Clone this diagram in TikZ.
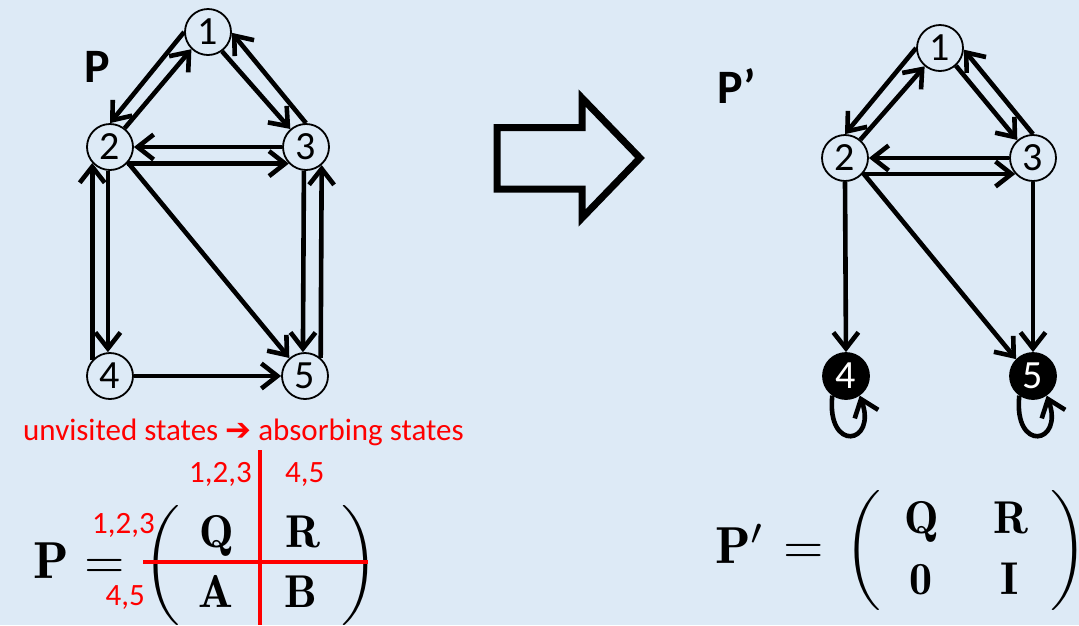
\documentclass[tikz,border=0pt]{standalone}
\usepackage{amsmath}
\usepackage{graphicx}
\usepackage{fontspec}
\newfontfamily\carl{Carlito}
\newfontfamily\djv{DejaVu Sans}
\usetikzlibrary{arrows.meta}
\definecolor{bg}{RGB}{221,234,246}
\definecolor{redc}{RGB}{255,0,0}
\newcommand\mbg[1]{\scalebox{5.2}{\fontsize{10}{12}\selectfont$#1$}}
\newcommand\men[1]{\scalebox{4.6}{\fontsize{10}{12}\selectfont$#1$}}
\newcommand\lpar[1]{\scalebox{5}{\fontsize{10}{12}\selectfont$\left(\vcenter{\hbox{\rule{0pt}{#1}}}\right.$}}
\newcommand\rpar[1]{\scalebox{5}{\fontsize{10}{12}\selectfont$\left.\vcenter{\hbox{\rule{0pt}{#1}}}\right)$}}
\begin{document}
\begin{tikzpicture}[x=1pt,y=-1pt,
  st/.style={circle,draw,line width=1.8pt,fill=bg,minimum size=46pt,inner sep=0pt,font=\carl\fontsize{40}{40}\selectfont},
  ab/.style={st,fill=black,text=white},
  arr/.style={line width=4.6pt,-{Straight Barb[length=16pt,width=25pt]}},
  lbl/.style={inner sep=0pt,anchor=base west,font=\carl\bfseries\fontsize{48}{48}\selectfont},
  rtxt/.style={inner sep=0pt,text=redc,font=\carl\fontsize{31}{31}\selectfont},
  mth/.style={inner sep=0pt,anchor=base},
  redline/.style={draw=redc,line width=4.5pt}]
\useasboundingbox[fill=bg] (0,0) rectangle (1079,625);

% left graph
\node[st] (a1) at (208,32) {1};
\node[st] (a2) at (110,147) {2};
\node[st] (a3) at (306,147) {3};
\node[st] (a4) at (110,376) {4};
\node[st] (a5) at (305,376) {5};
\node[lbl] (lp) at (84,82) {P};

\draw[arr] (a1.180) -- (a2.90);
\draw[arr] (a2.52) -- (a1.226);
\draw[arr] (a1.306) -- (a3.131);
\draw[arr] (a3.90) -- (a1.-2);
\draw[arr] (a3.180) -- (a2.0);
\draw[arr] (a2.316) -- (a3.224);
\draw[arr] (a4.138) -- (a2.222);
\draw[arr] (a2.265) -- (a4.95);
\draw[arr] (a3.265) -- (a5.95);
\draw[arr] (a5.49) -- (a3.311);
\draw[arr] (a2.319) -- (a5.131);
\draw[arr] (a4.0) -- (a5.180);

% big hollow arrow
\draw[line width=7pt,miter limit=10] (497,127.5) -- (582,127.5) -- (582,98) -- (640,158) -- (582,218) -- (582,189) -- (497,189) -- cycle;

% right graph
\node[st] (b1) at (940,48) {1};
\node[st] (b2) at (845,158) {2};
\node[st] (b3) at (1033,158) {3};
\node[ab] (b4) at (846,376) {4};
\node[ab] (b5) at (1033,376) {5};
\node[lbl] (rp) at (717,103) {P’};

\draw[arr] (b1.180) -- (b2.90);
\draw[arr] (b2.50) -- (b1.230);
\draw[arr] (b1.312) -- (b3.131);
\draw[arr] (b3.90) -- (b1.-4);
\draw[arr] (b3.180) -- (b2.0);
\draw[arr] (b2.318) -- (b3.222);
\draw[arr] (b2.270) -- (b4.90);
\draw[arr] (b3.270) -- (b5.90);
\draw[arr] (b2.320) -- (b5.135);
\draw[arr] (b4.235) .. controls +(96:58) and +(70:52) .. (b4.305);
\draw[arr] (b5.235) .. controls +(96:58) and +(70:52) .. (b5.305);

% red annotations
\node[rtxt,anchor=base west] (unv) at (23,440) {unvisited states {\djv ➔} absorbing states};
\node[rtxt,anchor=base east] (c123) at (252,482) {1,2,3};
\node[rtxt,anchor=base west] (c45) at (285,482) {4,5};
\node[rtxt,anchor=base east] (r123) at (155,533) {1,2,3};
\node[rtxt,anchor=base east] (r45) at (145,605) {4,5};

% left matrix
\node[mth,anchor=base west] (lP) at (33,578) {\mbg{\mathbf{P}}};
\node[mth] (leq) at (105,578) {\mbg{=}};
\node[mth] (llp) at (165,578) {\lpar{23.6pt}};
\node[mth] (lrp) at (357,578) {\rpar{23.6pt}};
\node[mth] (lQ) at (217,547) {\men{\mathbf{Q}}};
\node[mth] (lR) at (303,547) {\men{\mathbf{R}}};
\node[mth] (lA) at (216,607) {\men{\mathbf{A}}};
\node[mth] (lB) at (301,607) {\men{\mathbf{B}}};
\coordinate (vt) at (260,450);
\coordinate (vb) at (260,625);
\coordinate (hl) at (143,562);
\coordinate (hr) at (368,562);
\draw[redline] (vt) -- (vb);
\draw[redline] (hl) -- (hr);

% right matrix
\node[mth,anchor=base west] (rP) at (715,563) {\mbg{\mathbf{P}'}};
\node[mth] (req) at (804,563) {\mbg{=}};
\node[mth] (rlp) at (866,563) {\lpar{25.6pt}};
\node[mth] (rrp) at (1066,563) {\rpar{25.6pt}};
\node[mth] (rQ) at (922,533) {\men{\mathbf{Q}}};
\node[mth] (rR) at (1011,533) {\men{\mathbf{R}}};
\node[mth] (r0) at (921,594) {\men{\mathbf{0}}};
\node[mth] (rI) at (1010,594) {\men{\mathbf{I}}};
\end{tikzpicture}
\end{document}
